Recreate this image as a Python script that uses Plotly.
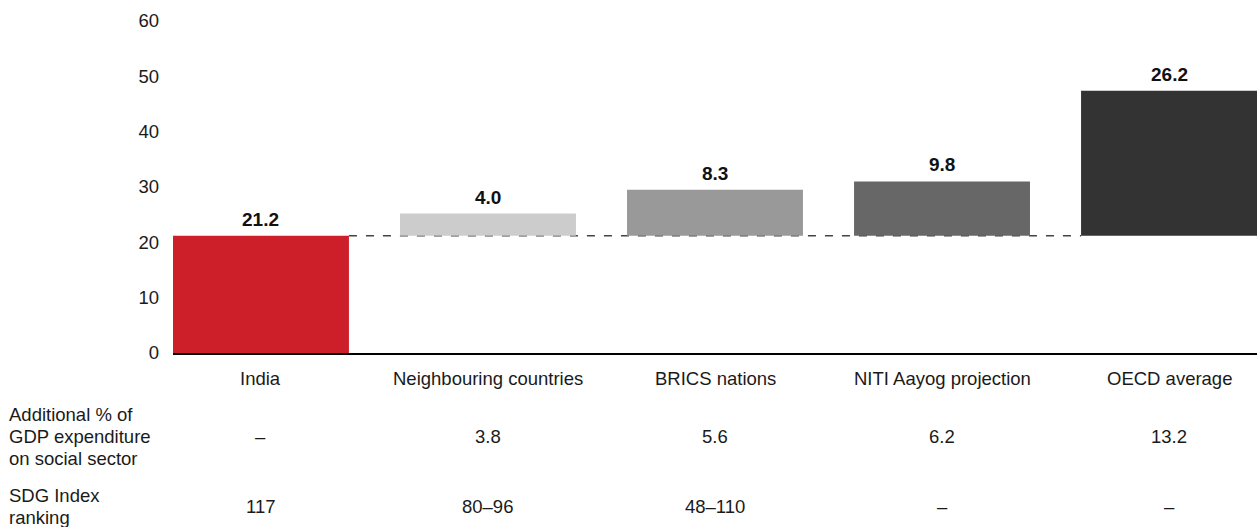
import plotly.graph_objects as go

# Social-sector spending gap: India vs comparison groups
categories = ["India", "Neighbouring countries", "BRICS nations",
              "NITI Aayog projection", "OECD average"]
india_value = 21.2
increments = [21.2, 4.0, 8.3, 9.8, 26.2]
bases = [0, india_value, india_value, india_value, india_value]
bar_colors = ["#CC1F2A", "#CCCCCC", "#999999", "#676767", "#333333"]
value_labels = ["21.2", "4.0", "8.3", "9.8", "26.2"]

gdp_title_lines = ["Additional % of", "GDP expenditure", "on social sector"]
sdg_title_lines = ["SDG Index", "ranking"]
additional_gdp = ["–", "3.8", "5.6", "6.2", "13.2"]
sdg_ranking = ["117", "80–96", "48–110", "–", "–"]

y_ticks = [0, 10, 20, 30, 40, 50, 60]

W, H = 1257, 527
M_L, M_R, M_T, M_B = 173, 0, 21, 174
PLOT_H = H - M_T - M_B
PLOT_W = W - M_L - M_R
BAR_W = 0.775
FONT = "Liberation Sans, Arial, sans-serif"
TXT = 18.5
TXT_COLOR = "#1a1a1a"

x = list(range(len(categories)))


def py(px):
    """Pixel row (from top) -> paper y coordinate."""
    return (H - M_B - px) / PLOT_H


def px_x(px):
    """Pixel column (from left) -> paper x coordinate."""
    return (px - M_L) / PLOT_W


def text_font(size=TXT):
    return dict(family=FONT, size=size, color=TXT_COLOR)


fig = go.Figure()
fig.add_trace(go.Bar(
    x=x, y=increments, base=bases, width=BAR_W,
    marker=dict(color=bar_colors, line=dict(width=0)),
    hoverinfo="skip", showlegend=False,
))

# dashed reference line at India's level between the bars
fig.add_shape(type="line", xref="x", yref="y",
              x0=x[0] + BAR_W / 2, x1=x[-1] - BAR_W / 2,
              y0=india_value, y1=india_value, layer="below",
              line=dict(color="#444444", width=1.4, dash="8px,9px"))

annotations = []
for i, (b, v, lab) in enumerate(zip(bases, increments, value_labels)):
    annotations.append(dict(x=i, y=b + v, xref="x", yref="y", text=f"<b>{lab}</b>",
                            showarrow=False, yanchor="bottom", yshift=4,
                            font=dict(family=FONT, size=19, color="#111111")))

for i, cat in enumerate(categories):
    for txt, row_px in ((cat, 378), (additional_gdp[i], 436), (sdg_ranking[i], 506)):
        annotations.append(dict(x=i, y=py(row_px), xref="x", yref="paper", text=txt,
                                showarrow=False, yanchor="middle", font=text_font()))

for lines, rows_px in ((gdp_title_lines, (414, 436, 458)), (sdg_title_lines, (495, 517))):
    for txt, row_px in zip(lines, rows_px):
        annotations.append(dict(x=px_x(8), y=py(row_px), xref="paper", yref="paper",
                                text=txt, showarrow=False, xanchor="left",
                                yanchor="middle", align="left", xshift=-1,
                                font=text_font()))

fig.update_layout(
    width=W, height=H,
    margin=dict(l=M_L, r=M_R, t=M_T, b=M_B, pad=0),
    paper_bgcolor="white", plot_bgcolor="white",
    bargap=1 - BAR_W,
    annotations=annotations,
    font=text_font(),
    xaxis=dict(range=[-BAR_W / 2, x[-1] + BAR_W / 2], showticklabels=False,
               showgrid=False, zeroline=False, showline=True,
               linecolor="#000000", linewidth=2, ticks="", fixedrange=True),
    yaxis=dict(range=[0, 60], tickvals=y_ticks, showgrid=False, zeroline=False,
               showline=False, ticks="", ticklabelstandoff=13,
               tickfont=text_font(18.5), fixedrange=True),
)

fig.write_html("out.html")
